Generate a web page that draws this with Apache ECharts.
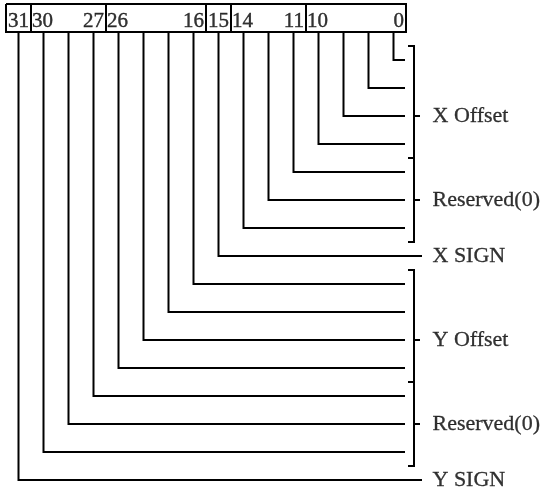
<!DOCTYPE html>
<html>
<head>
<meta charset="utf-8">
<script src="https://cdn.jsdelivr.net/npm/echarts@6/dist/echarts.min.js"></script>
<style>html,body{margin:0;padding:0;background:#fff}#c{width:545px;height:491px}</style>
</head>
<body>
<div id="c"></div>
<script>
// ---- data ----
const fieldHigh = [31, 30, 26, 15, 14, 10];
const fieldLow  = [31, 27, 16, 15, 11, 0];
const fieldWires = [1, 3, 4, 1, 3, 4];            // wires drawn per field, left to right
const groupNames = ['X Offset', 'Reserved(0)', 'X SIGN', 'Y Offset', 'Reserved(0)', 'Y SIGN'];
const groupRows  = [4, 3, 1, 4, 3, 1];            // wires per group, top to bottom
const WIRE_COUNT = 16;

// ---- geometry in axis units (x: wire index, y: row index) ----
const BOX_TOP = -2, BOX_BOT = -1;
const LINE_END = 15.46, SIGN_END = 16.14;
const BR_X = 15.82, HOOK_X = 15.58, TICK_X = 16.06, LABEL_X = 16.56;

const paths = [];
const left = -0.5, right = -0.5 + fieldWires.reduce((a, b) => a + b, 0);
paths.push({coords: [[left, BOX_TOP], [right, BOX_TOP], [right, BOX_BOT], [left, BOX_BOT], [left, BOX_TOP]]});
const boxLabels = [];
let acc = left;
fieldWires.forEach((w, i) => {
  const a = acc, b = acc + w;
  if (i > 0) paths.push({coords: [[a, BOX_TOP], [a, BOX_BOT]]});
  const ly = -1.37;
  if (fieldHigh[i] === fieldLow[i]) {
    boxLabels.push({value: [(a + b) / 2, ly], label: {position: 'inside', formatter: String(fieldHigh[i])}});
  } else {
    boxLabels.push({value: [a, ly], label: {position: 'right', distance: 1, formatter: String(fieldHigh[i])}});
    boxLabels.push({value: [b, ly], label: {position: 'left', distance: 2, formatter: String(fieldLow[i])}});
  }
  acc = b;
});
const signRows = [];
let r0 = 0;
groupRows.forEach(n => { if (n === 1) signRows.push(r0); r0 += n; });
for (let k = 0; k < WIRE_COUNT; k++) {
  const row = WIRE_COUNT - 1 - k;
  const end = signRows.includes(row) ? SIGN_END : LINE_END;
  paths.push({coords: [[k, BOX_BOT], [k, row], [end, row]]});
}
const sideLabels = [];
let start = 0;
groupRows.forEach((n, i) => {
  if (n > 1) {
    const top = start - 0.5, bot = start + n - 0.5;
    paths.push({coords: [[HOOK_X, top], [BR_X, top], [BR_X, bot], [HOOK_X, bot]]});
    const tr = start + Math.floor(n / 2);
    paths.push({coords: [[BR_X, tr], [TICK_X, tr]]});
    sideLabels.push({value: [LABEL_X, tr], label: {formatter: groupNames[i]}});
  } else {
    sideLabels.push({value: [LABEL_X, start], label: {formatter: groupNames[i]}});
  }
  start += n;
});

const chart = echarts.init(document.getElementById('c'), null, {renderer: 'canvas'});
chart.setOption({
  animation: false,
  backgroundColor: '#fff',
  grid: {left: 6, top: 4, width: 539, height: 487, show: false},
  xAxis: {type: 'value', min: -0.5, max: -0.5 + 539 / 25, show: false},
  yAxis: {type: 'value', inverse: true, min: -2, max: -2 + 487 / 28, show: false},
  series: [
    {
      type: 'lines', coordinateSystem: 'cartesian2d', polyline: true,
      lineStyle: {color: '#000', width: 2, opacity: 1},
      data: paths, silent: true
    },
    {
      type: 'scatter', symbolSize: 0, silent: true,
      label: {show: true, color: '#000', fontFamily: 'Liberation Serif', fontSize: 21,
              textBorderColor: '#000', textBorderWidth: 0.4},
      data: boxLabels
    },
    {
      type: 'scatter', symbolSize: 0, silent: true,
      label: {show: true, position: 'right', distance: 0, color: '#000', fontFamily: 'Liberation Serif', fontSize: 22,
              textBorderColor: '#000', textBorderWidth: 0.3},
      data: sideLabels
    }
  ]
});
</script>
</body>
</html>
